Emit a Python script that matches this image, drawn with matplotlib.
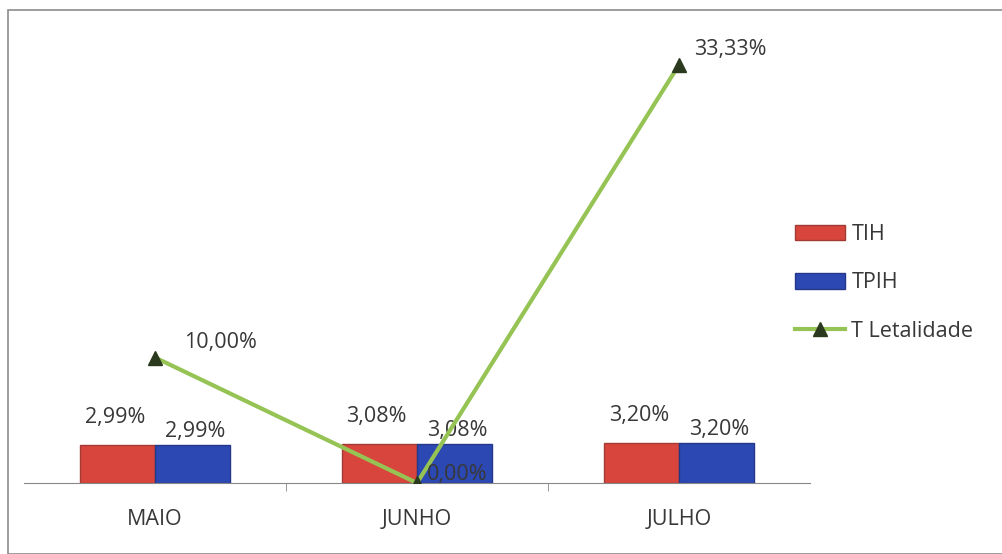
import matplotlib.pyplot as plt
from matplotlib.patches import Rectangle
import numpy as np

months = ['MAIO', 'JUNHO', 'JULHO']
tih = [2.99, 3.08, 3.20]
tpih = [2.99, 3.08, 3.20]
letalidade = [10.00, 0.00, 33.33]


def fmt(v):
    return f"{v:.2f}%".replace('.', ',')


plt.rcParams['font.family'] = ['Open Sans', 'DejaVu Sans']
txt = '#383838'
fs = 15.5

fig = plt.figure(figsize=(10.03, 5.54), dpi=100)
# outer chart frame
fig.patches.append(Rectangle((8 / 1003, 0.0), 1.0, 1 - 10 / 554, transform=fig.transFigure,
                             fill=False, edgecolor='#8c8c8c', linewidth=1.2))

ax = fig.add_axes([24 / 1003, 71 / 554, 786 / 1003, 453 / 554])
x = np.arange(len(months))
w = 0.286

red_bars = ax.bar(x - w / 2, tih, width=w, color='#d8453c', edgecolor='#a33a34', linewidth=1.0, label='TIH')
blue_bars = ax.bar(x + w / 2, tpih, width=w, color='#2c48b2', edgecolor='#24388a', linewidth=1.0, label='TPIH')

for b, v in zip(red_bars, tih):
    ax.annotate(fmt(v), (b.get_x() + b.get_width() / 2, v), xytext=(-2, 16), textcoords='offset points',
                ha='center', va='baseline', fontsize=fs, color=txt)
for b, v in zip(blue_bars, tpih):
    ax.annotate(fmt(v), (b.get_x() + b.get_width() / 2, v), xytext=(2, 6), textcoords='offset points',
                ha='center', va='baseline', fontsize=fs, color=txt)

line, = ax.plot(x, letalidade, color='#95c455', linewidth=3, marker='^', markersize=10,
                markerfacecolor='#2b3a1f', markeredgecolor='#2b3a1f', label='T Letalidade', zorder=5)

offsets = [(21, 7), (7, 2), (11, 7)]
for xi, v, off in zip(x, letalidade, offsets):
    ax.annotate(fmt(v), (xi, v), xytext=off, textcoords='offset points',
                ha='left', va='baseline', fontsize=fs, color=txt, zorder=6)

ax.set_xlim(-0.5, 2.5)
ax.set_ylim(0, 36.1)
ax.set_xticks(x)
ax.set_xticklabels(months, fontsize=fs, color=txt)
ax.tick_params(axis='x', length=0, pad=19)
ax.set_xticks([0.5, 1.5], minor=True)
ax.tick_params(axis='x', which='minor', length=6, color='#888888', direction='out')
ax.set_yticks([])
for s in ['top', 'right', 'left']:
    ax.spines[s].set_visible(False)
ax.spines['bottom'].set_color('#888888')
ax.patch.set_alpha(0)

ax.legend([red_bars, blue_bars, line], ['TIH', 'TPIH', 'T Letalidade'],
          loc='center left', bbox_to_anchor=(776 / 1003, 1 - 283 / 554), bbox_transform=fig.transFigure,
          frameon=False, fontsize=fs, labelspacing=1.27, handlelength=2.3, handleheight=0.7,
          handletextpad=0.3, labelcolor=txt)

fig.savefig('out.png', dpi=100)
